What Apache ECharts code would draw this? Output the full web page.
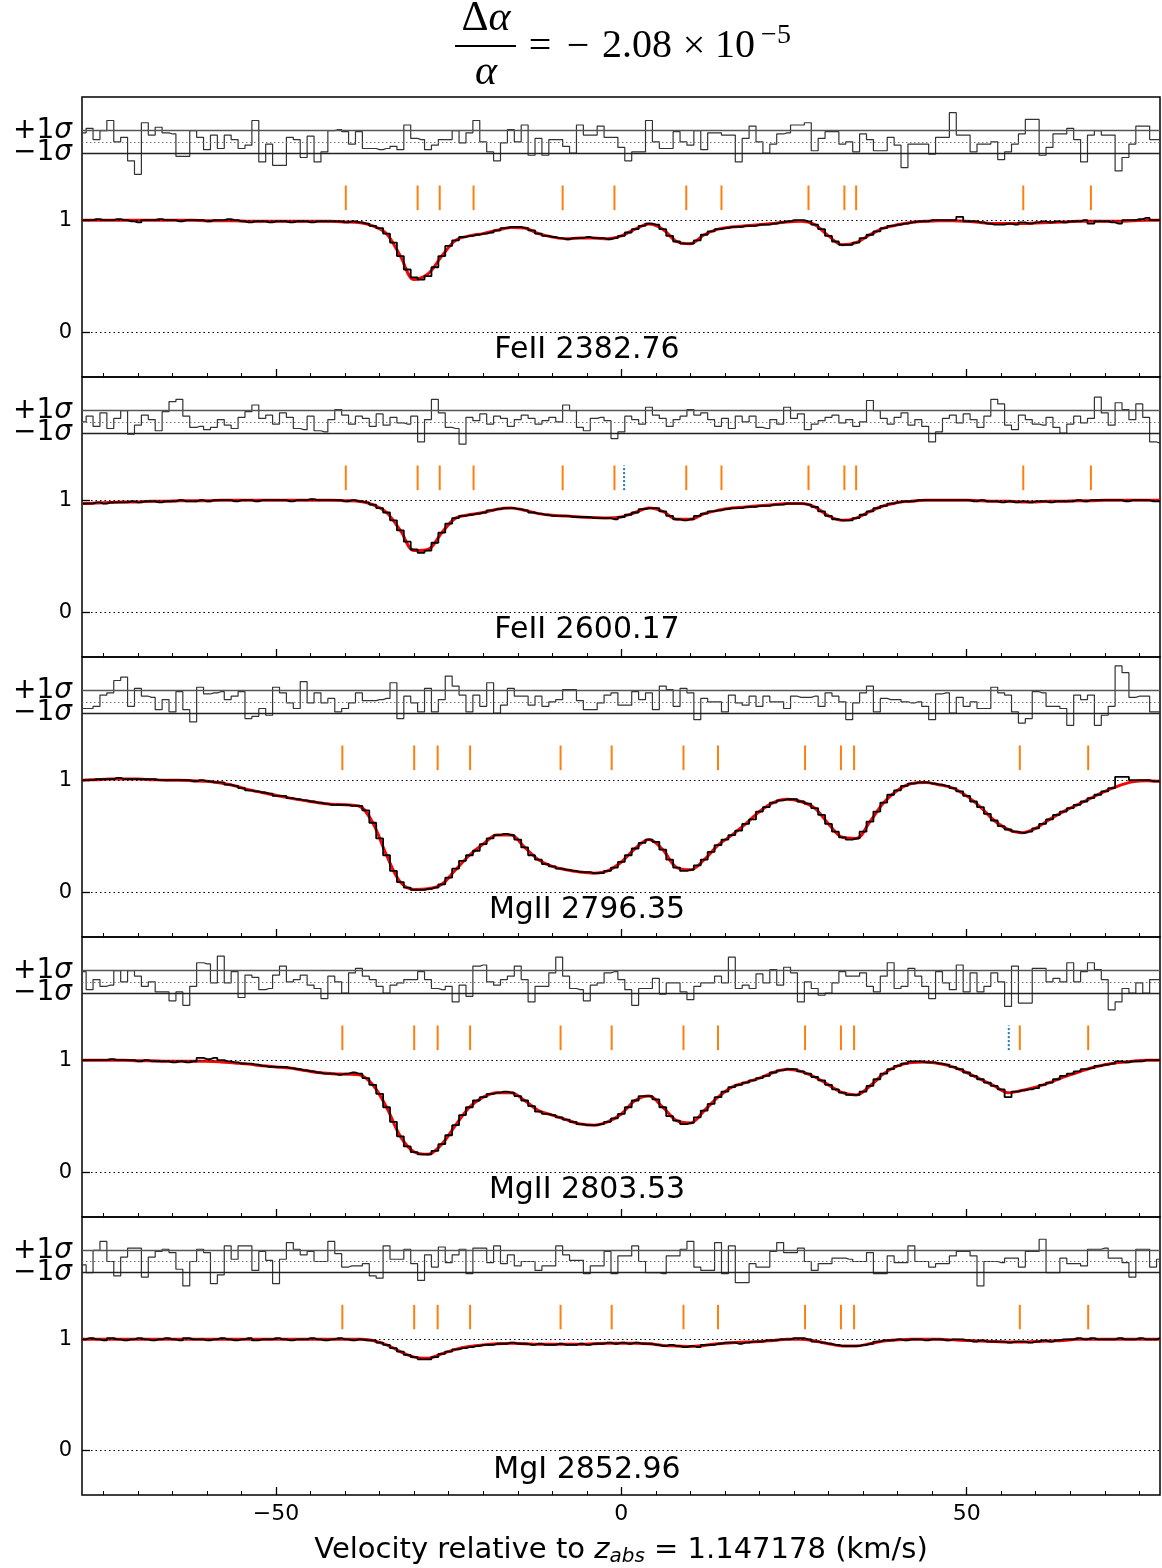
<!DOCTYPE html>
<html><head><meta charset="utf-8">
<script src="https://cdn.jsdelivr.net/npm/echarts@6/dist/echarts.min.js"></script>
<style>html,body{margin:0;padding:0;background:#fff}#c{width:1162px;height:1568px}</style>
</head><body><div id="c"></div>
<script>
// ---------- sampling grids (km/s) ----------
const fluxStart = -78, fluxStep = 1;     // observed pixels / residuals
const modelStart = -78, modelStep = 2;   // fitted model

const lineLabels = ['FeII 2382.76', 'FeII 2600.17', 'MgII 2796.35', 'MgII 2803.53', 'MgI 2852.96'];

// component positions (km/s)
const feTicks = [-39.9,-29.5,-26.3,-21.4,-8.5,-1.0,9.4,14.5,27.1,32.3,34.0,58.2,68.0];
const mgTicks = [-40.4,-30.0,-26.6,-21.9,-8.8,-1.4,9.0,14.0,26.6,31.8,33.7,57.7,67.6];
const fe2600Blue = [0.4];
const mg2803Blue = [56.1];

const xMajorTicks = [-50, 0, 50];
const xMinorTicks = [-75,-70,-65,-60,-55,-50,-45,-40,-35,-30,-25,-20,-15,-10,-5,0,5,10,15,20,25,30,35,40,45,50,55,60,65,70,75];

// ---------- observed normalised flux ----------
const fe2382Flux = [
1.00,1.00,1.01,1.00,1.00,1.01,1.00,0.99,0.98,1.00,
1.00,1.01,1.00,1.00,0.99,1.00,1.00,1.00,0.99,1.00,
1.00,1.01,1.00,0.99,0.98,0.99,0.99,0.98,0.99,0.99,
0.98,0.99,0.99,0.98,0.99,0.99,0.99,0.99,0.98,0.99,
0.98,0.97,0.95,0.93,0.88,0.80,0.68,0.56,0.49,0.47,
0.50,0.58,0.68,0.77,0.82,0.85,0.86,0.87,0.88,0.89,
0.91,0.93,0.94,0.94,0.93,0.91,0.88,0.86,0.85,0.84,
0.83,0.84,0.84,0.85,0.84,0.84,0.83,0.84,0.86,0.89,
0.92,0.95,0.97,0.96,0.92,0.86,0.81,0.79,0.79,0.82,
0.87,0.90,0.92,0.93,0.94,0.94,0.95,0.95,0.96,0.96,
0.97,0.98,0.99,1.00,1.00,0.99,0.96,0.92,0.86,0.81,
0.78,0.78,0.80,0.84,0.87,0.90,0.93,0.95,0.96,0.97,
0.98,0.99,0.99,1.00,1.00,1.00,1.00,1.03,0.99,0.99,
0.98,0.97,0.96,0.96,0.97,0.96,0.98,0.97,0.98,0.99,
0.98,0.99,0.98,0.99,0.99,1.00,0.97,0.99,0.99,0.98,
0.97,1.00,1.00,1.01,1.02,1.00,1.00];
const fe2600Flux = [
0.97,0.97,0.98,0.97,0.98,0.98,0.98,0.99,0.98,0.99,
0.99,0.98,0.99,0.99,1.00,0.99,0.99,1.00,0.99,1.00,
1.00,1.00,0.99,1.00,1.00,0.99,1.00,1.00,1.00,1.00,
0.99,1.00,1.00,1.01,1.00,1.00,1.00,1.00,0.99,1.00,
0.99,0.98,0.96,0.93,0.89,0.82,0.73,0.63,0.56,0.53,
0.55,0.62,0.71,0.79,0.84,0.86,0.87,0.88,0.89,0.91,
0.92,0.93,0.93,0.92,0.91,0.89,0.88,0.87,0.86,0.86,
0.86,0.85,0.85,0.85,0.84,0.84,0.84,0.83,0.85,0.87,
0.89,0.92,0.93,0.93,0.90,0.86,0.83,0.82,0.83,0.86,
0.88,0.90,0.91,0.92,0.93,0.93,0.94,0.94,0.95,0.95,
0.96,0.96,0.97,0.97,0.97,0.96,0.94,0.90,0.86,0.83,
0.82,0.82,0.84,0.87,0.90,0.93,0.95,0.97,0.98,0.99,
0.99,1.00,1.00,1.00,1.00,1.00,1.00,1.00,1.00,0.99,
1.00,0.99,0.99,0.98,0.99,0.98,0.99,0.98,0.99,0.99,
0.98,0.99,0.99,0.99,1.00,0.99,1.00,1.00,1.00,1.00,
1.00,0.99,1.00,1.00,1.00,0.99,0.99];
const mg2796Flux = [
1.00,1.00,1.01,1.01,1.01,1.02,1.01,1.01,1.01,1.01,
1.01,1.00,1.00,1.00,1.00,1.00,0.99,1.00,0.99,0.98,
0.98,0.96,0.95,0.93,0.91,0.90,0.89,0.88,0.86,0.86,
0.84,0.83,0.82,0.81,0.80,0.79,0.78,0.78,0.78,0.77,
0.77,0.73,0.62,0.48,0.33,0.19,0.09,0.04,0.02,0.02,
0.03,0.04,0.07,0.13,0.21,0.28,0.33,0.37,0.43,0.48,
0.51,0.52,0.51,0.47,0.40,0.33,0.29,0.25,0.23,0.21,
0.20,0.19,0.18,0.18,0.17,0.17,0.19,0.22,0.27,0.33,
0.39,0.44,0.47,0.45,0.38,0.29,0.22,0.19,0.20,0.24,
0.29,0.36,0.42,0.47,0.51,0.55,0.61,0.65,0.72,0.76,
0.80,0.82,0.83,0.83,0.81,0.79,0.75,0.69,0.61,0.54,
0.49,0.47,0.48,0.54,0.63,0.72,0.80,0.87,0.91,0.95,
0.97,0.98,0.98,0.97,0.96,0.95,0.93,0.90,0.86,0.81,
0.76,0.70,0.64,0.59,0.56,0.54,0.53,0.54,0.57,0.61,
0.65,0.69,0.72,0.75,0.78,0.81,0.84,0.87,0.90,0.93,
1.03,1.03,1.00,1.00,1.00,0.99,0.99];
const mg2803Flux = [
1.00,1.00,1.00,1.00,1.01,1.00,1.00,1.00,0.99,1.00,
0.99,0.99,0.99,0.98,0.99,0.98,0.99,1.02,1.01,1.02,
1.00,0.99,0.98,0.97,0.97,0.96,0.95,0.94,0.94,0.94,
0.93,0.92,0.91,0.90,0.89,0.88,0.88,0.87,0.88,0.89,
0.88,0.84,0.78,0.70,0.58,0.45,0.32,0.23,0.18,0.16,
0.16,0.19,0.25,0.33,0.42,0.51,0.58,0.64,0.67,0.70,
0.71,0.72,0.71,0.68,0.64,0.59,0.54,0.52,0.51,0.49,
0.47,0.45,0.43,0.42,0.42,0.43,0.45,0.48,0.52,0.58,
0.64,0.68,0.68,0.65,0.58,0.50,0.46,0.43,0.44,0.49,
0.55,0.61,0.67,0.72,0.76,0.78,0.80,0.82,0.84,0.86,
0.89,0.91,0.92,0.92,0.90,0.88,0.85,0.82,0.78,0.74,
0.71,0.69,0.69,0.72,0.77,0.83,0.88,0.92,0.95,0.97,
0.99,0.99,0.98,0.98,0.97,0.96,0.94,0.92,0.89,0.86,
0.83,0.80,0.77,0.74,0.67,0.72,0.73,0.74,0.75,0.78,
0.80,0.83,0.86,0.88,0.90,0.92,0.93,0.95,0.96,0.97,
0.99,0.98,0.99,0.99,1.00,1.00,1.00];
const mg2852Flux = [
1.00,1.01,1.00,0.99,1.01,1.00,0.99,1.00,1.01,1.00,
0.99,1.00,1.01,1.00,0.99,1.01,1.00,1.00,0.99,1.00,
1.01,1.00,0.99,1.00,1.01,0.99,1.00,1.00,1.01,1.00,
0.99,1.00,1.00,1.01,1.00,0.99,1.00,1.01,1.00,0.99,
1.00,0.99,0.99,0.97,0.95,0.92,0.89,0.86,0.84,0.82,
0.82,0.84,0.87,0.89,0.91,0.92,0.93,0.94,0.95,0.95,
0.96,0.96,0.97,0.96,0.96,0.95,0.96,0.95,0.95,0.96,
0.95,0.95,0.96,0.95,0.96,0.96,0.97,0.96,0.97,0.96,
0.97,0.96,0.96,0.95,0.94,0.95,0.94,0.93,0.94,0.93,
0.95,0.95,0.96,0.97,0.97,0.96,0.97,0.98,0.98,0.99,
0.99,1.00,1.00,1.01,1.01,1.00,0.98,0.97,0.96,0.95,
0.94,0.94,0.94,0.95,0.96,0.98,0.99,0.99,1.00,0.99,
1.00,1.00,0.99,1.00,1.00,0.99,1.00,1.00,0.99,0.98,
0.99,0.98,0.98,0.98,0.97,0.98,0.98,0.97,0.98,0.99,
0.98,0.99,1.00,1.00,1.01,1.00,1.01,1.00,1.00,1.00,
1.01,1.00,1.00,1.01,1.00,1.00,1.01];

// ---------- fitted model ----------
const fe2382Model = [
1.00,1.00,1.00,1.00,1.00,1.00,1.00,1.00,1.00,0.995,
0.995,0.995,0.99,0.99,0.99,0.99,0.99,0.99,0.99,0.985,
0.98,0.95,0.88,0.68,0.47,0.52,0.68,0.82,0.86,0.88,
0.91,0.935,0.93,0.88,0.85,0.835,0.84,0.84,0.835,0.86,
0.92,0.965,0.92,0.81,0.79,0.87,0.92,0.94,0.95,0.96,
0.97,0.985,0.99,0.96,0.86,0.78,0.80,0.87,0.93,0.96,
0.98,0.99,0.995,0.995,0.99,0.98,0.97,0.97,0.97,0.975,
0.98,0.985,0.99,0.99,0.99,0.99,0.995,1.00,1.00];
const fe2600Model = [
0.97,0.975,0.98,0.985,0.985,0.99,0.99,0.995,0.995,0.995,
1.00,1.00,1.00,1.00,1.00,1.00,1.00,1.00,1.00,0.995,
0.99,0.96,0.89,0.73,0.55,0.56,0.71,0.84,0.87,0.89,
0.92,0.93,0.91,0.88,0.865,0.86,0.85,0.845,0.84,0.85,
0.89,0.93,0.90,0.83,0.83,0.88,0.91,0.93,0.94,0.95,
0.96,0.97,0.97,0.94,0.86,0.82,0.84,0.90,0.95,0.98,
0.99,1.00,1.00,1.00,1.00,0.995,0.99,0.99,0.985,0.985,
0.99,0.99,0.995,0.995,1.00,1.00,1.00,1.00,1.00];
const mg2796Model = [
1.00,1.005,1.01,1.01,1.01,1.005,1.00,1.00,0.995,0.99,
0.975,0.95,0.915,0.89,0.865,0.84,0.82,0.80,0.785,0.78,
0.77,0.62,0.33,0.09,0.025,0.03,0.07,0.20,0.33,0.43,
0.51,0.51,0.40,0.29,0.23,0.20,0.18,0.17,0.19,0.27,
0.39,0.47,0.38,0.22,0.20,0.29,0.42,0.51,0.61,0.72,
0.80,0.83,0.81,0.75,0.61,0.49,0.48,0.63,0.80,0.91,
0.97,0.98,0.96,0.93,0.86,0.76,0.64,0.56,0.53,0.57,
0.65,0.72,0.78,0.84,0.90,0.95,0.985,0.995,0.99];
const mg2803Model = [
1.00,1.00,1.00,1.00,0.995,0.995,0.99,0.99,0.99,0.99,
0.985,0.975,0.965,0.95,0.94,0.93,0.91,0.89,0.88,0.875,
0.87,0.78,0.58,0.32,0.18,0.16,0.25,0.42,0.58,0.67,
0.71,0.71,0.64,0.55,0.51,0.47,0.43,0.42,0.45,0.52,
0.64,0.68,0.58,0.46,0.44,0.55,0.67,0.76,0.80,0.84,
0.89,0.92,0.90,0.85,0.78,0.71,0.69,0.77,0.88,0.95,
0.98,0.985,0.97,0.94,0.89,0.83,0.77,0.71,0.73,0.76,
0.80,0.85,0.89,0.93,0.96,0.98,0.99,1.00,1.00];
const mg2852Model = [
1.00,1.00,1.00,1.00,1.00,1.00,1.00,1.00,1.00,1.00,
1.00,1.00,1.00,1.00,1.00,1.00,1.00,1.00,1.00,1.00,
1.00,0.99,0.95,0.89,0.84,0.83,0.87,0.91,0.935,0.95,
0.96,0.965,0.96,0.955,0.955,0.955,0.955,0.96,0.965,0.965,
0.965,0.96,0.945,0.94,0.935,0.945,0.96,0.97,0.975,0.98,
0.99,1.00,1.00,0.985,0.96,0.94,0.94,0.96,0.985,0.995,
1.00,1.00,1.00,0.995,0.99,0.985,0.98,0.975,0.975,0.98,
0.985,0.99,1.00,1.00,1.00,1.00,1.00,1.00,1.00];

// ---------- normalised residuals (sigma units) ----------
const fe2382Resid = [
0.8,1.2,0.2,1.0,1.9,0.0,0.4,-1.7,-2.9,1.7,
0.6,1.3,0.8,0.7,-1.3,-1.3,1.0,0.4,-0.7,0.6,
-0.6,0.6,0.2,-0.6,-0.3,1.9,-1.8,-0.2,-2.1,-2.1,
0.4,0.2,-1.4,0.5,-1.8,-0.9,1.0,1.1,0.9,-0.2,
0.9,-0.6,-0.6,-0.7,-0.6,-0.4,-0.7,1.5,0.3,0.2,
-0.7,-0.3,0.2,0.2,1.0,-0.1,0.8,1.9,0.0,-0.9,
-1.7,-0.1,1.1,0.0,1.5,-1.2,0.3,-1.2,0.2,0.2,
-0.4,-1.0,1.5,0.6,0.6,1.4,0.4,0.4,-0.5,-1.7,
-0.9,-0.9,1.9,0.0,-0.6,-0.6,0.9,0.0,-0.3,1.0,
-0.7,0.8,0.8,0.6,0.6,-1.8,0.3,1.4,0.0,-1.0,
-0.2,0.7,0.8,1.5,1.5,1.7,-0.8,0.3,0.9,0.9,
-0.2,0.0,-0.9,0.7,0.2,-0.8,-0.8,0.4,-0.3,-2.3,
-0.2,-0.2,-0.2,-1.1,0.4,0.4,2.6,0.6,0.6,-0.9,
-0.2,-0.2,0.0,-1.6,-0.9,-0.2,0.7,2.0,2.0,-1.2,
-0.5,0.7,0.7,1.2,0.2,-1.8,0.6,1.0,0.6,0.6,
-2.6,-1.4,-0.2,1.4,1.4,0.2,0.2];
const fe2600Resid = [
0.0,0.5,-0.4,0.8,-0.6,0.3,1.0,-1.1,-0.3,0.6,
0.2,-0.8,0.9,1.8,2.0,0.5,-0.5,-0.4,-0.7,-0.5,
0.2,-0.3,-0.6,0.4,0.9,1.5,0.3,0.6,-0.2,0.8,
0.4,-0.6,-0.7,0.5,-0.8,-0.9,0.2,1.1,0.6,-0.2,
0.5,0.3,-0.4,0.7,-0.3,0.4,-0.1,-0.2,0.5,-1.8,
0.2,2.0,0.8,-0.5,-0.6,-2.0,0.4,0.1,0.7,-0.2,
0.5,0.3,-0.4,0.2,0.6,0.3,-0.2,0.1,0.4,0.0,
1.5,1.0,-0.5,-0.8,0.3,0.4,0.1,-1.5,-0.9,0.5,
0.2,-0.2,1.3,0.6,0.3,-0.4,0.2,0.5,1.1,0.6,
0.8,0.2,-0.4,0.3,-0.6,0.5,0.0,0.5,-0.5,-0.6,
0.2,-0.2,1.3,0.3,0.7,-0.7,-0.2,0.1,0.4,0.6,
-0.1,0.2,-0.4,0.0,1.9,1.0,0.3,-0.2,0.4,0.8,
-0.3,0.2,-0.4,-1.8,-0.9,0.3,0.6,-0.1,0.7,0.2,
-0.5,0.5,2.0,1.6,-0.3,-0.7,0.6,0.2,-0.2,-0.3,
0.4,-0.5,-1.0,-0.2,0.5,-0.1,0.3,2.2,0.8,-0.3,
1.7,1.1,0.2,1.6,0.4,-1.8,-1.9];
const mg2796Resid = [
-0.6,-0.6,-0.4,0.6,0.8,1.9,2.2,-0.4,1.2,0.5,
0.4,-0.7,0.2,-0.9,0.9,-0.7,-1.8,1.3,0.7,0.8,
0.9,0.2,0.5,0.9,-1.5,-1.3,-0.6,-1.2,1.3,0.8,
-0.1,-0.6,1.8,-0.1,0.8,-0.1,0.3,-0.9,-0.6,-0.1,
0.8,0.1,0.1,0.2,0.3,1.7,-1.5,0.5,-0.1,-0.9,
1.2,-0.9,0.2,2.3,1.4,0.6,-0.9,0.6,-0.4,1.7,
-1.0,-0.3,1.2,0.5,0.5,-0.3,0.5,-0.4,0.0,0.2,
1.1,1.1,0.1,-0.7,-0.7,-0.1,0.6,0.8,-0.3,-0.3,
0.9,0.2,0.8,-0.7,1.4,1.1,-0.4,1.2,0.8,-1.6,
0.3,0.0,0.0,-0.9,0.6,-0.1,-0.3,0.5,-0.4,0.5,
0.0,0.0,-0.6,0.5,0.4,0.4,0.5,-0.4,0.8,0.5,
0.0,-1.6,-0.1,0.8,1.4,-0.9,0.3,0.2,0.2,0.0,
-0.1,0.0,-0.4,-1.6,0.7,0.8,-1.0,0.4,-0.4,0.0,
-0.6,-0.6,1.3,0.8,0.6,-0.9,-1.9,-1.5,0.9,0.8,
-0.4,-0.4,-0.6,-2.1,0.6,0.2,0.6,-2.1,-1.2,-0.4,
3.2,2.6,0.4,0.5,0.5,-0.9,-0.9];
const mg2803Resid = [
0.9,-0.7,0.2,-0.4,-0.3,1.0,0.0,1.0,0.5,-0.4,
0.0,-0.9,-0.9,-1.7,-0.9,-2.1,-0.4,1.7,1.6,-0.1,
2.3,-0.1,0.9,-1.4,0.6,0.4,-0.7,-0.6,0.6,1.4,
0.0,0.2,0.6,-0.3,-0.6,-1.5,0.5,0.0,-1.0,0.8,
1.2,0.5,0.2,-0.4,-1.0,-0.3,-0.1,0.2,0.2,0.9,
0.2,-0.6,-0.7,-0.4,-1.8,-0.3,-1.3,1.4,1.5,0.0,
-0.3,0.2,0.5,1.4,0.2,-1.8,-0.4,-0.4,0.8,2.2,
0.5,-0.6,-0.7,-1.7,-0.3,-0.1,0.8,0.9,0.2,-0.7,
-2.1,-0.6,-0.6,0.3,-1.1,-0.1,-0.1,-0.9,-1.6,-0.4,
-0.1,-0.1,0.5,-0.1,2.2,-0.6,-0.3,-0.6,0.7,-0.1,
1.1,-0.3,1.3,0.8,-1.8,0.0,-0.6,-1.2,-1.0,-0.1,
0.9,0.5,0.5,0.8,-0.4,-0.9,0.5,1.7,-0.6,-0.4,
1.2,0.5,-0.4,-1.5,0.9,-0.1,-0.7,1.5,-0.9,0.8,
-0.9,-0.4,0.8,0.0,-2.2,1.4,-1.9,-1.9,1.2,1.2,
0.0,0.3,0.0,1.7,0.0,0.9,1.7,1.1,0.2,-2.5,
-1.8,-0.6,-1.0,-0.1,-1.0,0.2,0.2];
const mg2852Resid = [
-0.3,-1.0,1.0,1.8,0.0,-1.3,0.4,1.2,1.2,-1.4,
0.4,0.9,1.1,0.8,-0.7,-2.2,0.0,1.1,0.8,-2.0,
-1.2,1.4,0.2,1.4,1.4,-0.8,0.9,0.1,-2.0,0.2,
1.7,1.1,0.6,0.9,0.0,0.0,1.8,0.7,-0.5,-0.4,
-0.4,-0.2,-1.3,-1.5,1.4,0.2,0.2,1.1,-0.2,-1.7,
0.6,-0.5,1.3,-0.1,0.6,1.1,-1.1,1.2,1.2,-0.1,
1.4,-0.2,0.6,-0.4,0.0,0.0,-0.8,-0.4,-0.4,1.4,
0.6,0.1,0.1,-1.1,-0.4,-0.4,0.9,-1.1,0.5,0.5,
1.4,0.0,-1.0,-1.0,-1.1,0.5,0.5,1.1,1.8,-0.5,
-0.8,-0.8,1.7,-1.1,1.4,-1.9,-1.9,-0.2,-0.5,-0.5,
0.9,1.7,0.8,0.8,1.2,0.0,-0.8,-0.2,-0.2,0.3,
0.3,0.2,0.0,0.0,0.8,-1.1,-1.1,0.5,-0.1,-0.1,
1.4,0.0,0.0,-0.5,-0.2,-0.2,0.5,0.9,0.9,0.5,
-2.2,0.0,0.0,-0.1,0.3,0.3,-0.5,0.9,0.9,2.0,
-1.0,-1.0,0.3,-0.2,-0.2,-0.4,1.1,1.1,1.2,0.3,
0.3,-0.1,-1.4,1.1,1.1,-0.5,0.2];

// ---------- assembly ----------
const panels = [
  {label: lineLabels[0], flux: fe2382Flux, model: fe2382Model, resid: fe2382Resid, ticks: feTicks, blue: []},
  {label: lineLabels[1], flux: fe2600Flux, model: fe2600Model, resid: fe2600Resid, ticks: feTicks, blue: fe2600Blue},
  {label: lineLabels[2], flux: mg2796Flux, model: mg2796Model, resid: mg2796Resid, ticks: mgTicks, blue: []},
  {label: lineLabels[3], flux: mg2803Flux, model: mg2803Model, resid: mg2803Resid, ticks: mgTicks, blue: mg2803Blue},
  {label: lineLabels[4], flux: mg2852Flux, model: mg2852Model, resid: mg2852Resid, ticks: mgTicks, blue: []}
];

const residCentre = 1.7, residScale = 0.1;   // where the residual strip sits on the flux axis
const PANEL_TOP = 97, PANEL_H = 280, PANEL_LEFT = 82, PANEL_W = 1078;
const X_MIN = -78.1, X_MAX = 78.0, Y_MIN = -0.4, Y_MAX = 2.1;
const SANS = 'DejaVu Sans', SERIF = 'Liberation Serif';

function minusFmt(v) { return v < 0 ? '\u2212' + Math.abs(v) : String(v); }

function tickSeries(xi, yi, list, color, dash) {
  return {
    type: 'custom', xAxisIndex: xi, yAxisIndex: yi, silent: true, z: 5,
    data: list.map(v => [v, 1.2]),
    renderItem: (params, api) => {
      const a = api.coord([api.value(0), 1.09]);
      const b = api.coord([api.value(0), 1.31]);
      return {type: 'line', shape: {x1: a[0], y1: a[1], x2: b[0], y2: b[1]},
        style: {stroke: color, lineWidth: 2, lineDash: dash || null}};
    }
  };
}

const option = {animation: false, backgroundColor: '#fff', grid: [], xAxis: [], yAxis: [], series: [], graphic: []};
const sigmaRich = {
  s: {fontSize: 28, fontFamily: SANS, color: '#000'},
  g: {fontSize: 28, fontFamily: SANS, fontStyle: 'italic', color: '#000'}
};

panels.forEach((p, i) => {
  const last = i === panels.length - 1;
  option.grid.push({left: PANEL_LEFT, top: PANEL_TOP + PANEL_H * i, width: PANEL_W, height: PANEL_H,
    show: true, borderColor: '#000', borderWidth: 1.5, backgroundColor: 'rgba(0,0,0,0)'});
  // main x axis (major ticks + labels)
  option.xAxis.push({
    type: 'value', gridIndex: i, min: X_MIN, max: X_MAX, position: 'bottom',
    axisLine: {show: false, onZero: false}, splitLine: {show: false},
    axisTick: {show: true, inside: true, length: 8, customValues: xMajorTicks, lineStyle: {color: '#000', width: 1.3}},
    axisLabel: {show: last, customValues: xMajorTicks, formatter: minusFmt, fontSize: 22, color: '#000', fontFamily: SANS, margin: 8},
    name: last ? 'Velocity relative to {i|z}{sub|abs} = 1.147178 (km/s)' : '',
    nameLocation: 'middle', nameGap: 38,
    nameTextStyle: {fontSize: 29, fontFamily: SANS, color: '#000', lineHeight: 34, verticalAlign: 'top',
      rich: {i: {fontSize: 29, fontStyle: 'italic', fontFamily: SANS, lineHeight: 34},
             sub: {fontSize: 20, fontStyle: 'italic', fontFamily: SANS, lineHeight: 16, verticalAlign: 'bottom'}}}
  });
  // minor tick axis
  option.xAxis.push({
    type: 'value', gridIndex: i, min: X_MIN, max: X_MAX, position: 'bottom',
    axisLine: {show: false, onZero: false}, splitLine: {show: false}, axisLabel: {show: false},
    axisTick: {show: true, inside: true, length: 4, customValues: xMinorTicks, lineStyle: {color: '#000', width: 1}}
  });
  // flux axis: ticks + 0/1 labels
  option.yAxis.push({
    type: 'value', gridIndex: i, min: Y_MIN, max: Y_MAX, position: 'left',
    axisLine: {show: false, onZero: false}, splitLine: {show: false},
    axisTick: {show: true, inside: true, length: 8, customValues: [0, 1], lineStyle: {color: '#000', width: 1.3}},
    axisLabel: {customValues: [0, 1], margin: 10, color: '#000', fontSize: 21, fontFamily: SANS, hideOverlap: false}
  });
  // +1 sigma label axis
  option.yAxis.push({
    type: 'value', gridIndex: i, min: Y_MIN, max: Y_MAX, position: 'left',
    axisLine: {show: false, onZero: false}, splitLine: {show: false}, axisTick: {show: false},
    axisLabel: {customValues: [residCentre + residScale], margin: 10, hideOverlap: false,
      formatter: () => '{s|+1}{g|\u03C3}', rich: sigmaRich}
  });
  // -1 sigma label axis
  option.yAxis.push({
    type: 'value', gridIndex: i, min: Y_MIN, max: Y_MAX, position: 'left',
    axisLine: {show: false, onZero: false}, splitLine: {show: false}, axisTick: {show: false},
    axisLabel: {customValues: [residCentre - residScale], margin: 10, hideOverlap: false,
      formatter: () => '{s|\u22121}{g|\u03C3}', rich: sigmaRich}
  });
  const xi = 2 * i, yi = 3 * i;
  // model
  option.series.push({
    type: 'line', xAxisIndex: xi, yAxisIndex: yi, silent: true, z: 2,
    data: p.model.map((f, k) => [modelStart + k * modelStep, f]),
    smooth: 0.35, showSymbol: false, lineStyle: {color: '#ff0000', width: 3}
  });
  // observed
  option.series.push({
    type: 'line', xAxisIndex: xi, yAxisIndex: yi, silent: true, z: 3, step: 'middle',
    data: p.flux.map((f, k) => [fluxStart + k * fluxStep, f]),
    showSymbol: false, lineStyle: {color: '#000', width: 1.8},
    markLine: {symbol: 'none', silent: true, label: {show: false},
      data: [
        {yAxis: 1, lineStyle: {type: [1.5, 3], color: '#000', width: 1.2}},
        {yAxis: 0, lineStyle: {type: [1.5, 3], color: '#000', width: 1.2}}
      ]}
  });
  // residuals
  option.series.push({
    type: 'line', xAxisIndex: xi, yAxisIndex: yi, silent: true, z: 3, step: 'middle',
    data: p.resid.map((r, k) => [fluxStart + k * fluxStep, residCentre + residScale * r]),
    showSymbol: false, lineStyle: {color: '#333', width: 1.2},
    markLine: {symbol: 'none', silent: true, label: {show: false},
      data: [
        {yAxis: residCentre + residScale, lineStyle: {type: 'solid', color: '#555', width: 1.4}},
        {yAxis: residCentre - residScale, lineStyle: {type: 'solid', color: '#222', width: 1.4}},
        {yAxis: residCentre, lineStyle: {type: [1.5, 2.5], color: '#777', width: 1}}
      ]}
  });
  option.series.push(tickSeries(xi, yi, p.ticks, '#ff7f0e'));
  if (p.blue.length) option.series.push(tickSeries(xi, yi, p.blue, '#1f77b4', [2, 2]));

  option.graphic.push({type: 'text', x: 587, y: PANEL_TOP + PANEL_H * i + 253, z: 10,
    style: {text: p.label, fontSize: 30, fontFamily: SANS, fill: '#000', textAlign: 'center', textVerticalAlign: 'middle', align: 'center', verticalAlign: 'middle'}});
});

// title: Δα / α = − 2.08 × 10^−5
function tt(text, x, y, size, italic, align) {
  return {type: 'text', x: x, y: y, z: 10, style: {text: text, fontSize: size, fontFamily: SERIF, fontStyle: italic ? 'italic' : 'normal',
    fill: '#000', textAlign: align || 'center', textVerticalAlign: 'middle', align: align || 'center', verticalAlign: 'middle'}};
}
option.graphic.push(
  {type: 'text', x: 486, y: 19, z: 10, style: {text: '{u|\u0394}{i|\u03B1}', textAlign: 'center', textVerticalAlign: 'middle', align: 'center', verticalAlign: 'middle',
    rich: {u: {fontSize: 42, fontFamily: SERIF, fill: '#000'}, i: {fontSize: 42, fontFamily: SERIF, fontStyle: 'italic', fill: '#000'}}}},
  {type: 'line', z: 10, shape: {x1: 455, y1: 46, x2: 516, y2: 46}, style: {stroke: '#000', lineWidth: 2}},
  tt('\u03B1', 486, 73, 42, true),
  tt('=', 540, 47, 40),
  tt('\u2212', 578, 47, 40),
  tt('2.08', 637, 46, 40),
  tt('\u00D7', 694, 47, 40),
  tt('10', 735, 46, 40),
  tt('\u22125', 776, 36, 28)
);

const chart = echarts.init(document.getElementById('c'), null, {renderer: 'canvas'});
chart.setOption(option);
</script></body></html>
